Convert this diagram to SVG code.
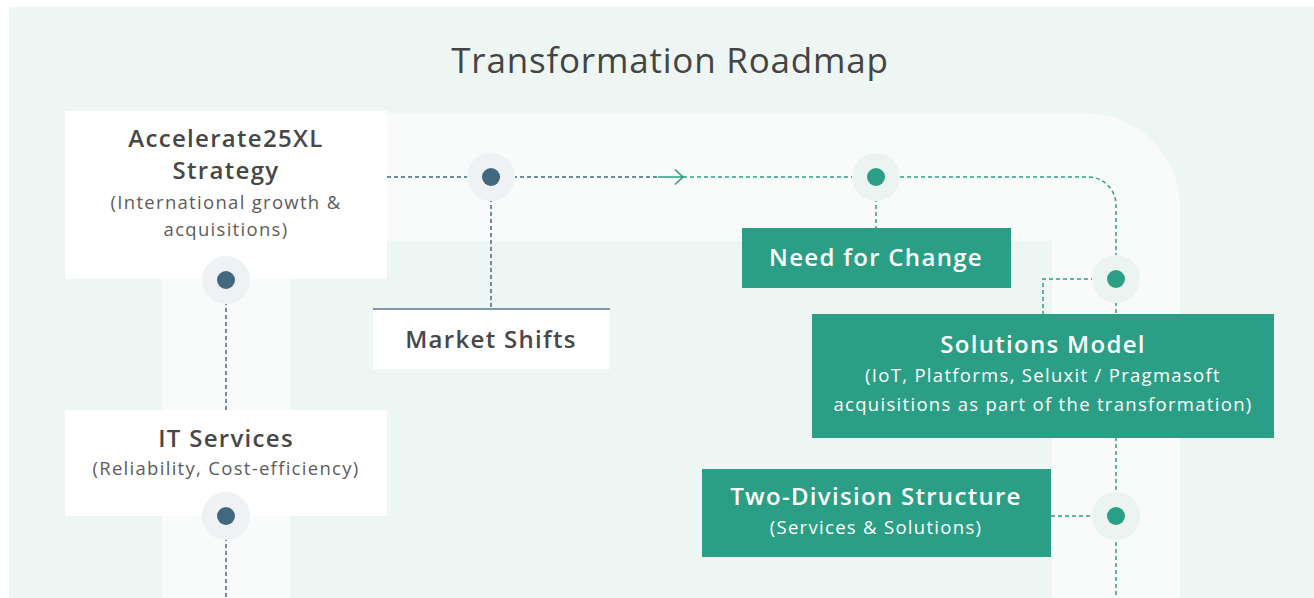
<svg xmlns="http://www.w3.org/2000/svg" width="1314" height="598" viewBox="0 0 1314 598">
  <defs>
    <style>
      .title{font-family:"Open Sans","Liberation Sans",sans-serif;font-size:35px;fill:#444;text-anchor:middle;letter-spacing:0.8px}
      .h{font-family:"Open Sans","Liberation Sans",sans-serif;font-size:24px;font-weight:600;text-anchor:middle;letter-spacing:1.3px}
      .s{font-family:"Open Sans","Liberation Sans",sans-serif;font-size:18.5px;text-anchor:middle;letter-spacing:1.3px}
      .dark{fill:#474747}
      .darks{fill:#5c5c5c}
      .w{fill:#ffffff}
      .wbox{fill:#ffffff}
      .gbox{fill:#2a9f85}
      .cb{fill:none;stroke:#3f6a80;stroke-width:1.5;stroke-dasharray:4 3}
      .cg{fill:none;stroke:#2a9f85;stroke-width:1.5;stroke-dasharray:4 3}
      .haloB{fill:#eef2f4}
      .haloG{fill:#ecf4f1}
      .dotB{fill:#41687f}
      .dotG{fill:#2a9f85}
    </style>
  </defs>
  <rect x="0" y="0" width="1314" height="598" fill="#ffffff"/>
  <rect x="9" y="7" width="1305" height="591" fill="#eef6f3"/>
  <path d="M162,598 V113 H1086 A94,94 0 0 1 1180,207 V598 H1052 V241 H290 V598 Z" fill="#f8fbfa"/>
  <text class="title" x="670" y="73">Transformation Roadmap</text>

  <g id="connectors">
    <path class="cb" d="M387,177 H658"/>
    <path d="M658,177 H683 M675,169.5 L683,177 L675,184.5" fill="none" stroke="#2a9f85" stroke-width="1.6"/>
    <path class="cg" d="M683,177 H1088 A28,28 0 0 1 1116,205 V314"/>
    <path class="cb" d="M491,177 V308"/>
    <path class="cg" d="M876,177 V228"/>
    <path class="cg" d="M1116,279 H1043 V314"/>
    <path class="cg" d="M1116,437 V598"/>
    <path class="cg" d="M1051,516 H1116"/>
    <path class="cb" d="M226,280 V410"/>
    <path class="cb" d="M226,516 V598"/>
  </g>

  <g id="accelerate">
    <rect class="wbox" x="65" y="111" width="322" height="168"/>
    <text class="h dark" x="226" y="147">Accelerate25XL</text>
    <text class="h dark" x="226" y="179">Strategy</text>
    <text class="s darks" x="226" y="209">(International growth &amp;</text>
    <text class="s darks" x="226" y="236">acquisitions)</text>
  </g>
  <g id="it-services">
    <rect class="wbox" x="65" y="410" width="322" height="106"/>
    <text class="h dark" x="226" y="447">IT Services</text>
    <text class="s darks" x="226" y="475">(Reliability, Cost-efficiency)</text>
  </g>
  <g id="market-shifts">
    <rect class="wbox" x="373" y="308" width="237" height="61"/>
    <line x1="373" y1="309" x2="610" y2="309" stroke="#7f9aa8" stroke-width="2"/>
    <text class="h dark" x="491" y="348">Market Shifts</text>
  </g>
  <g id="need-for-change">
    <rect class="gbox" x="742" y="228" width="269" height="60"/>
    <text class="h w" x="876" y="266">Need for Change</text>
  </g>
  <g id="solutions-model">
    <rect class="gbox" x="812" y="314" width="462" height="124"/>
    <text class="h w" x="1043" y="353">Solutions Model</text>
    <text class="s w" x="1043" y="382">(IoT, Platforms, Seluxit / Pragmasoft</text>
    <text class="s w" x="1043" y="411">acquisitions as part of the transformation)</text>
  </g>
  <g id="two-division">
    <rect class="gbox" x="702" y="469" width="349" height="88"/>
    <text class="h w" x="876" y="505">Two-Division Structure</text>
    <text class="s w" x="876" y="534">(Services &amp; Solutions)</text>
  </g>

  <g id="dots">
    <circle class="haloB" cx="491" cy="177" r="24"/>
    <circle class="dotB" cx="491" cy="177" r="9"/>
    <circle class="haloB" cx="226" cy="280" r="24"/>
    <circle class="dotB" cx="226" cy="280" r="9"/>
    <circle class="haloB" cx="226" cy="516" r="24"/>
    <circle class="dotB" cx="226" cy="516" r="9"/>
    <circle class="haloG" cx="876" cy="177" r="24"/>
    <circle class="dotG" cx="876" cy="177" r="9"/>
    <circle class="haloG" cx="1116" cy="279" r="24"/>
    <circle class="dotG" cx="1116" cy="279" r="9"/>
    <circle class="haloG" cx="1116" cy="516" r="24"/>
    <circle class="dotG" cx="1116" cy="516" r="9"/>
  </g>
</svg>
